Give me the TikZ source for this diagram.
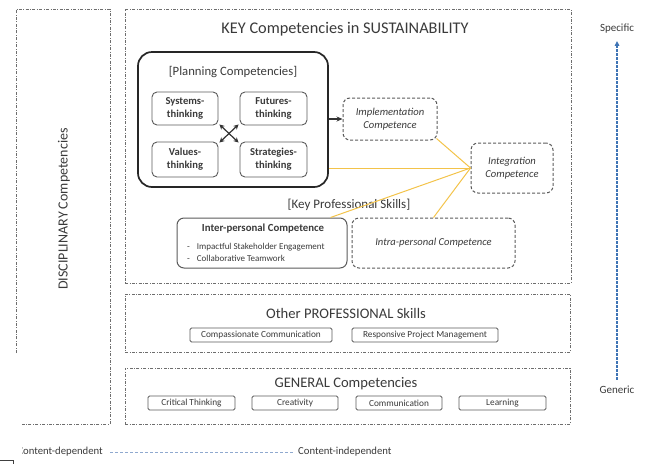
\documentclass[tikz,border=0pt]{standalone}
\usepackage{fontspec}
\setmainfont{Carlito}
\usetikzlibrary{arrows.meta}
\definecolor{txt}{HTML}{3A3A3A}
\definecolor{frame}{HTML}{6E6E6E}
\definecolor{boxline}{HTML}{5A5A5A}
\definecolor{gold}{HTML}{F3C34A}
\definecolor{blueline}{HTML}{3F74B5}
\definecolor{lightblue}{HTML}{8FA9CF}
\newcommand{\fs}[1]{\fontsize{#1}{\fpeval{#1*1.2}}\selectfont}
\tikzset{
  region/.style={draw=frame, line width=0.6pt, dash pattern=on 3pt off 1.5pt on 0.8pt off 1.5pt},
  inner/.style={draw=boxline, line width=0.9pt, rounded corners=5pt, inner sep=1pt, align=center, font=\fs{10.6}\bfseries, text=txt},
  dbox/.style={draw=boxline, line width=1pt, dash pattern=on 3pt off 2pt, rounded corners=7pt, align=center, font=\fs{10.6}\itshape, text=txt},
  btn/.style={draw=boxline, line width=0.9pt, rounded corners=1.5pt, inner sep=0pt, font=\fs{9.3}, text=txt},
  lbl/.style={text=txt, inner sep=0pt},
  goldline/.style={draw=gold, line width=1pt},
}
\begin{document}
\begin{tikzpicture}[x=1pt,y=-1pt]
\useasboundingbox (0,0) rectangle (656,464);
% disciplinary
\draw[region] (16,353) -- (16,9) -- (110,9) -- (110,424) -- (22,424);
\node[lbl, rotate=90, font=\fs{14}] (disc) at (64,209) {DISCIPLINARY Competencies};
% key region
\node[region, minimum width=446pt, minimum height=274pt] (key) at (348,146) {};
\node[lbl, font=\fs{16.3}] (keytitle) at (345,29) {KEY Competencies in SUSTAINABILITY};
% planning
\node[draw=black!85, line width=1.7pt, rounded corners=14pt, minimum width=190pt, minimum height=135pt] (plan) at (233,119.5) {};
\node[lbl, font=\fs{12.7}] (plantitle) at (233,72) {[Planning Competencies]};
\node[inner, minimum width=66pt, minimum height=33pt] (sys) at (185,108.5) {Systems-\\thinking};
\node[inner, minimum width=67pt, minimum height=33pt] (fut) at (273.5,108.5) {Futures-\\thinking};
\node[inner, minimum width=66pt, minimum height=35pt] (val) at (185,159.5) {Values-\\thinking};
\node[inner, minimum width=67pt, minimum height=35pt] (str) at (273.5,159.5) {Strategies-\\thinking};
\draw[{Stealth[length=5pt,width=5pt]}-{Stealth[length=5pt,width=5pt]}, line width=1.2pt, black!80] ([shift={(1pt,1pt)}]sys.south east) -- ([shift={(-1pt,-1pt)}]str.north west);
\draw[{Stealth[length=5pt,width=5pt]}-{Stealth[length=5pt,width=5pt]}, line width=1.2pt, black!80] ([shift={(-1pt,1pt)}]fut.south west) -- ([shift={(1pt,-1pt)}]val.north east);
% implementation & integration
\node[dbox, minimum width=94pt, minimum height=42pt] (impl) at (390,119) {Implementation\\Competence};
\node[dbox, minimum width=82pt, minimum height=50pt] (integ) at (512,168) {Integration\\Competence};
\draw[-{Stealth[length=6pt,width=5pt]}, line width=1.2pt, black!80] (plan.east |- impl.west) -- (impl.west);
% key professional
\node[lbl, font=\fs{13}] (kps) at (349,205) {[Key Professional Skills]};
\node[draw=boxline, line width=1pt, rounded corners=7pt, minimum width=170pt, minimum height=50pt] (inter) at (262,243) {};
\node[lbl, font=\fs{10.8}\bfseries] (intertitle) at (263,229) {Inter-personal Competence};
\node[lbl, font=\fs{9}, anchor=west] (b1) at (187,247) {-\hspace{7pt}Impactful Stakeholder Engagement};
\node[lbl, font=\fs{9}, anchor=west] (b2) at (187,258) {-\hspace{7pt}Collaborative Teamwork};
\node[dbox, minimum width=163pt, minimum height=50pt] (intra) at (433.5,243) {Intra-personal Competence};
% gold connectors
\draw[goldline] ([shift={(-1pt,2pt)}]impl.south east) -- (integ.west);
\draw[goldline] (plan.east |- integ.west) -- (integ.west);
\draw[goldline] ([xshift=-17pt]inter.north east) -- (integ.west);
\draw[goldline] (intra.north) -- (integ.west);
% other professional
\node[region, minimum width=445pt, minimum height=58pt] (other) at (347.5,323) {};
\node[lbl, font=\fs{14.6}] (othertitle) at (346,313) {Other PROFESSIONAL Skills};
\node[btn, minimum width=142pt, minimum height=14pt] (cc) at (261,335) {Compassionate Communication};
\node[btn, minimum width=146pt, minimum height=14pt] (rpm) at (425,335) {Responsive Project Management};
% general
\node[region, minimum width=445pt, minimum height=56pt] (gen) at (347.5,396) {};
\node[lbl, font=\fs{14.6}] (gentitle) at (346,384) {GENERAL Competencies};
\node[btn, minimum width=87pt, minimum height=14pt] (ct) at (191.5,403) {Critical Thinking};
\node[btn, minimum width=86pt, minimum height=14pt] (cr) at (295,403) {Creativity};
\node[btn, minimum width=86pt, minimum height=14pt] (cm) at (399,403) {Communication};
\node[btn, minimum width=87pt, minimum height=14pt] (le) at (502.5,403) {Learning};
% specific / generic
\node[lbl, font=\fs{11}] (spec) at (617,29) {Specific};
\node[lbl, font=\fs{11}] (gener) at (617,390) {Generic};
\draw[blueline, line width=1.3pt, dash pattern=on 2.5pt off 1.5pt, -{Triangle[length=5pt,width=4.5pt]}] ([yshift=6pt]gener.north) -- ([yshift=-7pt]spec.south);
% bottom axis
\begin{scope}
\clip (22,440) rectangle (120,464);
\node[lbl, font=\fs{10.7}, anchor=east] (cdep) at (103,452) {Content-dependent};
\end{scope}
\node[lbl, font=\fs{10.7}, anchor=west] (cind) at (298,452) {Content-independent};
\draw[lightblue, line width=0.9pt, dash pattern=on 3pt off 2pt] ([xshift=7pt]cdep.east) -- ([xshift=-5pt]cind.west);
% corner fragment
\draw[black!75, line width=0.8pt] (0,460) -- (13,460) -- (13,464);
\end{tikzpicture}
\end{document}
